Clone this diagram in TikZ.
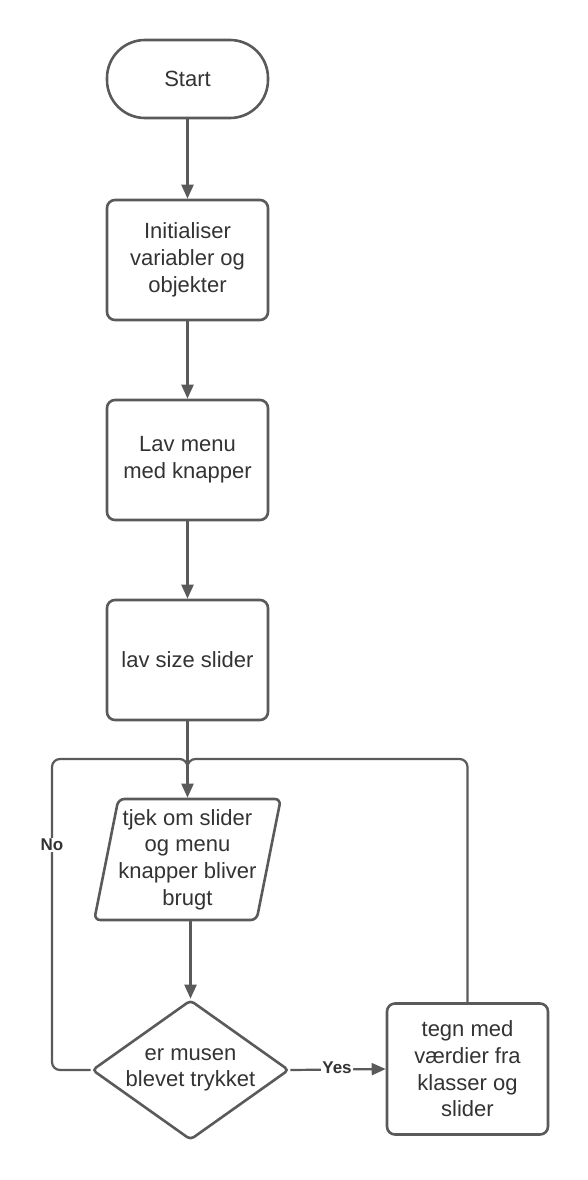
\documentclass[tikz,border=0pt]{standalone}
\usepackage{fontspec}
\setmainfont{Liberation Sans}
\usetikzlibrary{shapes.geometric,arrows.meta}
\definecolor{ln}{HTML}{5A5A5A}
\definecolor{tx}{HTML}{333333}
\begin{document}
\begin{tikzpicture}[x=1pt,y=-1pt,
  every node/.style={text=tx,font=\fontsize{22}{26.7}\selectfont},
  base/.style={draw=ln,line width=2.6pt,fill=white,align=center,inner sep=0pt},
  boxnode/.style={base,rectangle,rounded corners=8pt,minimum width=161pt,minimum height=120pt},
  termnode/.style={base,rectangle,rounded corners=38pt,minimum width=161pt,minimum height=78pt},
  ionode/.style={base,trapezium,trapezium left angle=76.5,trapezium right angle=103.5,trapezium stretches=true,minimum width=179pt,minimum height=121pt,rounded corners=6pt},
  decnode/.style={base,diamond,aspect=1.407,minimum width=197pt,minimum height=140pt,rounded corners=4pt},
  conn/.style={draw=ln,line width=2.2pt},
  arr/.style={conn,-{Triangle[length=14pt,width=12pt]}},
  lbl/.style={font=\bfseries\fontsize{17}{19}\selectfont,fill=white,inner sep=1.5pt,text=tx}
]
\useasboundingbox (0,0) rectangle (588,1180);
\node[termnode] (start) at (187.5,79) {Start};
\node[boxnode] (init) at (187.5,260) {Initialiser\\variabler og\\objekter};
\node[boxnode] (menu) at (187.5,460) {Lav menu\\med knapper};
\node[boxnode] (slider) at (187.5,660) {lav size slider};
\node[ionode] (check) at (187.5,859.5) {tjek om slider\\og menu\\knapper bliver\\brugt};
\node[decnode] (mouse) at (190.5,1070) {er musen\\blevet trykket};
\node[boxnode,minimum height=131pt] (draw4) at (467.5,1069) {tegn med\\værdier fra\\klasser og\\slider};
\coordinate (j) at (187.5,759);
\coordinate (jd) at (187.5,776);
\coordinate (nl) at (52,759);
\coordinate (nb) at (52,1070);
\coordinate (nr) at (467.5,759);

\draw[arr] (start) -- (init);
\draw[arr] (init) -- (menu);
\draw[arr] (menu) -- (slider);
\draw[arr] (slider) -- (check.north -| slider.south);
\draw[conn,rounded corners=8pt] (mouse.west) -- (nb) -- (nl) -- (j) -- (jd);
\draw[conn,rounded corners=8pt] (draw4.north) -- (nr) -- (j) -- (jd);
\draw[arr] (check.south -| mouse.north) -- (mouse.north);
\draw[arr] (mouse.east) -- (draw4.west);
\node[lbl] (no) at (52,845) {No};
\node[lbl] (yes) at (337,1068) {Yes};
\end{tikzpicture}
\end{document}
